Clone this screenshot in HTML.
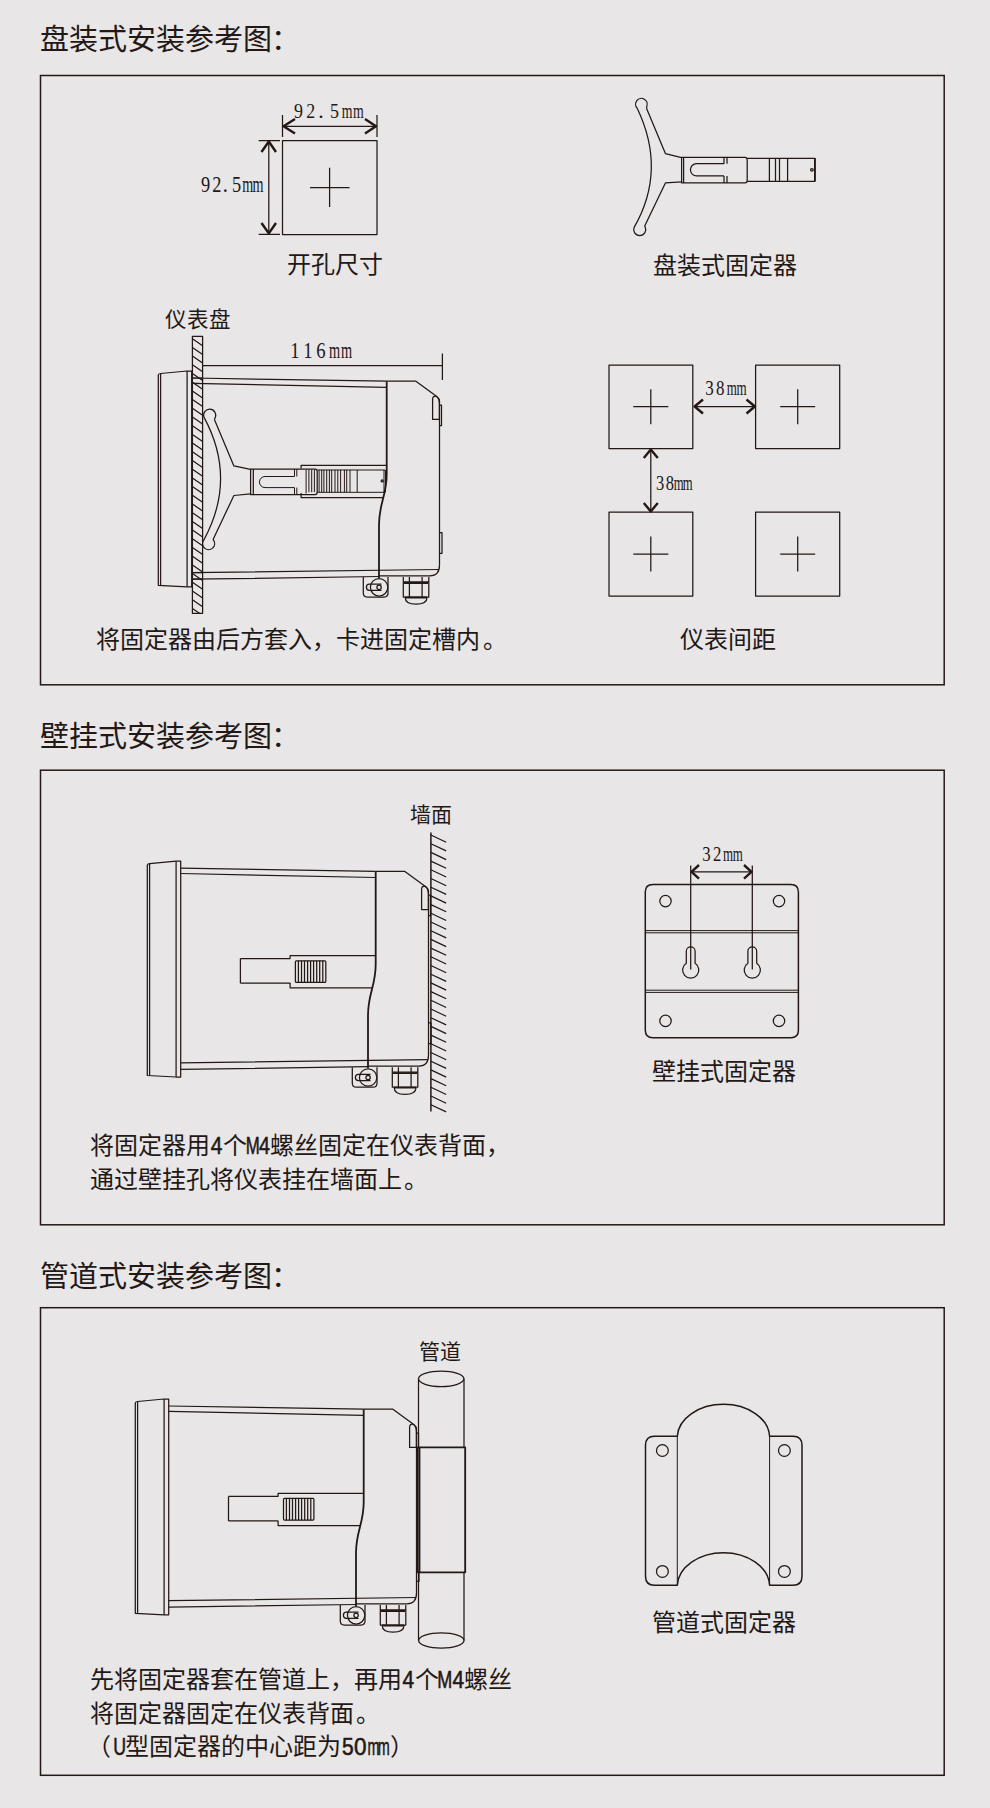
<!DOCTYPE html>
<html lang="zh-CN"><head><meta charset="utf-8">
<style>
html,body{margin:0;padding:0;background:#e8e6e7;width:990px;height:1808px;overflow:hidden}
svg{display:block;position:absolute;left:0;top:0}
text{font-family:"Liberation Sans",sans-serif;fill:#231815}
.dm{font-family:"Liberation Serif",serif}
.lt{stroke:#231815;stroke-width:0.55}
.k{fill:none;stroke:#231815;stroke-width:1.25;stroke-linejoin:round;stroke-linecap:butt}
.k2{fill:none;stroke:#231815;stroke-width:1.8;stroke-linejoin:round}
.bx{fill:none;stroke:#231815;stroke-width:1.5}
.k1{fill:none;stroke:#231815;stroke-width:1}
.ka{fill:none;stroke:#231815;stroke-width:2.4;stroke-linejoin:round}
.kb{fill:none;stroke:#231815;stroke-width:1.5;stroke-linejoin:round}
</style></head>
<body>
<svg width="990" height="1808" viewBox="0 0 990 1808">
<defs>
<g id="inst">
<!-- bezel -->
<path class="k" d="M158.3 375V585.3L187.1 586.8H191.7V371H187.1L160.6 373.5Q158.3 373.7 158.3 375Z"/>
<path class="k" d="M160.6 373.5V585.5M187.1 371V586.8"/>
<!-- housing mid lines -->
<path class="k" d="M191.7 378L386.7 381.2M191.7 383.3L386.7 387.3M191.7 572.7L439 569.5M191.7 579.2L379 576.5"/>
<!-- rear housing -->
<path class="k" d="M386.7 381.2H415.9L437.1 396.7Q439.5 398.8 439.5 401V565Q439.5 575.8 430 575.8H379"/>
<path class="k2" d="M386.7 381.2V474C386.7 496 379 503 379 525V578"/>
<!-- clip -->
<path class="k" d="M432.6 419.4V399.5Q432.6 396 435.5 396Q439.4 397.5 439.4 404V419.4Z"/>
<path class="k" d="M439.5 405H441.5V425.5H439.5M439.5 532.7H442V553.3H439.5"/>
<!-- slide housing -->
<path class="k" d="M301.1 468.4V465.3H386.7M301.1 492.9V497.6H383"/>
<!-- lock -->
<path class="k" d="M363.3 577V593Q363.3 597 367.3 597H384Q388 597 388 593V577"/>
<circle class="k" cx="379.1" cy="587.3" r="8.7" style="fill:#e8e6e7"/>
<path class="k" d="M381.5 584.2H369.4Q366.4 584.2 366.4 587.25Q366.4 590.3 369.4 590.3H381.5"/>
<circle class="k" cx="379.1" cy="587.3" r="2.2"/>
<!-- gland -->
<path class="k" d="M403.3 577V597H428.8V577M409.4 577V597M422.1 577V597M403.3 581.8H428.8"/>
<path class="k2" d="M404 583H428M405 597.5H427"/>
<path class="k" d="M405.2 597.5Q405.2 604.2 416 604.2Q427 604.2 427 597.5"/>
</g>
</defs>

<!-- titles -->
<text x="40" y="50" font-size="29">盘装式安装参考图</text><text x="271" y="50" font-size="29">：</text>
<text x="40" y="747" font-size="29">壁挂式安装参考图</text><text x="271" y="747" font-size="29">：</text>
<text x="40" y="1287" font-size="29">管道式安装参考图</text><text x="271" y="1287" font-size="29">：</text>

<!-- boxes -->
<rect class="bx" x="40.5" y="75.5" width="903.7" height="609.3"/>
<rect class="bx" x="40.5" y="770.2" width="903.7" height="454.6"/>
<rect class="bx" x="40.5" y="1307.7" width="903.7" height="467.6"/>

<!-- BOX1 -->
<!-- cutout -->
<g id="cut">
<rect class="k" x="282.5" y="140.5" width="94.5" height="94"/>
<path class="k" d="M310 187.5H349.6M329.6 167.7V207"/>
<path class="k" d="M282.5 115V137M377 115V137M282.5 126.3H377"/>
<path class="ka" d="M295 119L283.5 126.3L295 133.5M365 119L376 126.3L365 133.5"/>
<path class="k" d="M258.7 140.5H280M258.7 234.4H280M268.8 140.5V234.4"/>
<path class="ka" d="M261.5 152L268.8 141.5L276 152M261.5 223L268.8 233.4L276 223"/>
</g>
<text class="dm" transform="translate(293.99 117.5) scale(0.82 1)" font-size="21.9">9</text><text class="dm" transform="translate(306.31 117.5) scale(0.82 1)" font-size="21.9">2</text><text class="dm" transform="translate(318.16 117.5) scale(1.0 1)" font-size="21.9">.</text><text class="dm" transform="translate(330.09 117.5) scale(0.82 1)" font-size="21.9">5</text><text class="dm" transform="translate(341.85 117.5) scale(0.63 1)" font-size="21.9">m</text><text class="dm" transform="translate(353.00 117.5) scale(0.63 1)" font-size="21.9">m</text>
<text class="dm" transform="translate(201.09 191.8) scale(0.82 1)" font-size="22.4">9</text><text class="dm" transform="translate(212.26 191.8) scale(0.82 1)" font-size="22.4">2</text><text class="dm" transform="translate(222.40 191.8) scale(1.0 1)" font-size="22.4">.</text><text class="dm" transform="translate(231.93 191.8) scale(0.82 1)" font-size="22.4">5</text><text class="dm" transform="translate(242.32 191.8) scale(0.63 1)" font-size="22.4">m</text><text class="dm" transform="translate(252.42 191.8) scale(0.63 1)" font-size="22.4">m</text>
<text x="287" y="273" font-size="24">开孔尺寸</text>
<!-- panel fixture top-right -->
<path class="k" d="M646.7 108.7L665.4 153.6L681.6 157.7M681.6 181.9L665.4 182.9L644.7 226L645.2 227.1A6 6 0 1 1 634.26 227.11Q666.9 170 637.16 108.16A5.8 5.8 0 1 1 646.78 106.37L646.7 108.7"/>
<path class="k" d="M681.6 157.3H745Q747.2 157.3 747.2 160V180Q747.2 182.9 745 182.9H681.6ZM683.6 157.3V182.9"/>
<path class="k" d="M724 163.7H696.5A6.1 6.1 0 0 0 696.5 175.9H724M724 157.3V163.7M727 157.3V163.7M724 175.9V182.9M727 175.9V182.9"/>
<path class="k" d="M747.2 158.3H814.9V181.3H747.2M769.4 158.3V181.3M775.5 158.3V181.3M779.5 158.3V181.3M787.6 158.3V181.3"/>
<path class="k2" d="M814.9 158.3V181.3"/>
<circle class="k" cx="811.9" cy="169.8" r="1.3"/>
<text x="653" y="274" font-size="24">盘装式固定器</text>

<!-- panel side view -->
<text x="164.5" y="327" font-size="21.5">仪表盘</text>
<use href="#inst"/>
<clipPath id="pc"><rect x="192.4" y="336.4" width="10.2" height="276.9"/></clipPath>
<g clip-path="url(#pc)"><path class="k" d="M192.4 330.0L202.6 337.0M192.4 338.7L202.6 345.7M192.4 347.4L202.6 354.4M192.4 356.1L202.6 363.1M192.4 364.8L202.6 371.8M192.4 373.5L202.6 380.5M192.4 382.2L202.6 389.2M192.4 390.9L202.6 397.9M192.4 399.6L202.6 406.6M192.4 408.3L202.6 415.3M192.4 417.0L202.6 424.0M192.4 425.7L202.6 432.7M192.4 434.4L202.6 441.4M192.4 443.1L202.6 450.1M192.4 451.8L202.6 458.8M192.4 460.5L202.6 467.5M192.4 469.2L202.6 476.2M192.4 477.9L202.6 484.9M192.4 486.6L202.6 493.6M192.4 495.3L202.6 502.3M192.4 504.0L202.6 511.0M192.4 512.7L202.6 519.7M192.4 521.4L202.6 528.4M192.4 530.1L202.6 537.1M192.4 538.8L202.6 545.8M192.4 547.5L202.6 554.5M192.4 556.2L202.6 563.2M192.4 564.9L202.6 571.9M192.4 573.6L202.6 580.6M192.4 582.3L202.6 589.3M192.4 591.0L202.6 598.0M192.4 599.7L202.6 606.7M192.4 608.4L202.6 615.4M192.4 617.1L202.6 624.1"/></g>
<rect class="k" x="192.4" y="336.4" width="10.2" height="276.9"/>
<path class="k" d="M191.7 378L202.6 378.2M191.7 383.3L202.6 383.5M191.7 572.7L202.6 572.6M191.7 579.2L202.6 579.1"/>
<path class="k" d="M202.6 365.6H442.4M442.4 353.5V380"/>
<text class="dm" transform="translate(290.27 358) scale(0.82 1)" font-size="22.8">1</text><text class="dm" transform="translate(303.32 358) scale(0.82 1)" font-size="22.8">1</text><text class="dm" transform="translate(316.15 358) scale(0.82 1)" font-size="22.8">6</text><text class="dm" transform="translate(329.03 358) scale(0.63 1)" font-size="22.8">m</text><text class="dm" transform="translate(341.08 358) scale(0.63 1)" font-size="22.8">m</text>
<!-- Y fixture side -->
<path class="k" d="M214.4 419.6L233.9 465.9L250.6 469.3M250.6 493.8L233.9 495.5L213.2 539.2L213.5 540.2A6 6 0 1 1 203.7 540.2Q237.3 478.8 204.06 417.35A6 6 0 1 1 215.1 417.8L214.4 419.6"/>
<path class="k" d="M250.6 469H315Q317.2 469 317.2 471.5V492Q317.2 494.7 315 494.7H250.6ZM253.3 469V494.7"/>
<path class="k1" d="M294.5 476.5H265A5.55 5.55 0 0 0 265 487.6H294.5M294.5 469V476.5M296.8 469V476.5M294.5 487.6V494.7M296.8 487.6V494.7"/>
<path class="k1" d="M317.2 470H385M317.2 492.3H385M306.1 470V493.5M384 470V492.3M385.5 470V492.3"/>
<path class="k1" d="M308.9 469.8V492.2M311.7 469.8V492.2M314.4 469.8V492.2M319.1 469.8V492.2M321.7 469.8V492.2M323.9 469.8V492.2M326.7 469.8V492.2M329.4 469.8V492.2M331.7 469.8V492.2M335.0 469.8V492.2M337.8 469.8V492.2M340.6 469.8V492.2M344.4 469.8V492.2M346.7 469.8V492.2M350.0 469.8V492.2M357.2 469.8V492.2"/>

<circle class="k" cx="382.2" cy="480.9" r="1"/>

<!-- 4 squares -->
<g>
<rect class="k" x="609" y="365" width="83.8" height="83.6"/>
<rect class="k" x="755.6" y="365" width="84.1" height="83.6"/>
<rect class="k" x="609" y="512.2" width="83.8" height="83.8"/>
<rect class="k" x="755.6" y="512.2" width="84.1" height="83.8"/>
<path class="k" d="M633.3 406.7H668.3M650.8 389.2V424.2M780.2 406.7H815.2M797.7 389.2V424.2M633.3 554.1H668.3M650.8 536.6V571.6M780.2 554.1H815.2M797.7 536.6V571.6"/>
<path class="k" d="M694 406.5H754.5M650.8 450V511"/>
<path class="ka" d="M703 399.5L694.6 406.5L703 413.5M746.5 399.5L754.9 406.5L746.5 413.5M643.8 458L650.8 449.6L657.8 458M643.8 503L650.8 511.4L657.8 503"/>
</g>
<text class="dm" transform="translate(705.13 395.1) scale(0.82 1)" font-size="20.7">3</text><text class="dm" transform="translate(716.11 395.1) scale(0.82 1)" font-size="20.7">8</text><text class="dm" transform="translate(726.64 395.1) scale(0.63 1)" font-size="20.7">m</text><text class="dm" transform="translate(736.39 395.1) scale(0.63 1)" font-size="20.7">m</text>
<text class="dm" transform="translate(656.11 489.7) scale(0.82 1)" font-size="20.1">3</text><text class="dm" transform="translate(665.63 489.7) scale(0.82 1)" font-size="20.1">8</text><text class="dm" transform="translate(673.64 489.7) scale(0.63 1)" font-size="20.1">m</text><text class="dm" transform="translate(682.74 489.7) scale(0.63 1)" font-size="20.1">m</text>
<text x="679.5" y="647.5" font-size="24">仪表间距</text>
<text x="96" y="648" font-size="24">将固定器由后方套入，卡进固定槽内</text><text x="482.6" y="648" font-size="24">。</text>
<!-- BOX2 wall side view -->
<g transform="translate(-11 490.2)"><use href="#inst"/>
<path class="k" d="M251.4 468.4H301.3M251.4 493H301.3M251.4 468.4V493"/>
<rect class="k" x="306.4" y="470.6" width="30.4" height="21.6" rx="1"/>
<path class="k" d="M309.4 470.6V492.2M312.5 470.6V492.2M315.5 470.6V492.2M318.6 470.6V492.2M321.6 470.6V492.2M324.6 470.6V492.2M327.7 470.6V492.2M330.7 470.6V492.2M333.8 470.6V492.2"/>
</g>
<text x="409.5" y="822" font-size="21">墙面</text>
<path class="kb" d="M430.9 832.6V1111.5"/>
<path class="k" d="M430.9 835.0L446.2 842.2M430.9 843.7L446.2 850.9M430.9 852.4L446.2 859.6M430.9 861.1L446.2 868.3M430.9 869.8L446.2 877.0M430.9 878.5L446.2 885.7M430.9 887.2L446.2 894.4M430.9 895.9L446.2 903.1M430.9 904.6L446.2 911.8M430.9 913.3L446.2 920.5M430.9 922.0L446.2 929.2M430.9 930.7L446.2 937.9M430.9 939.4L446.2 946.6M430.9 948.1L446.2 955.3M430.9 956.8L446.2 964.0M430.9 965.5L446.2 972.7M430.9 974.2L446.2 981.4M430.9 982.9L446.2 990.1M430.9 991.6L446.2 998.8M430.9 1000.3L446.2 1007.5M430.9 1009.0L446.2 1016.2M430.9 1017.7L446.2 1024.9M430.9 1026.4L446.2 1033.6M430.9 1035.1L446.2 1042.3M430.9 1043.8L446.2 1051.0M430.9 1052.5L446.2 1059.7M430.9 1061.2L446.2 1068.4M430.9 1069.9L446.2 1077.1M430.9 1078.6L446.2 1085.8M430.9 1087.3L446.2 1094.5M430.9 1096.0L446.2 1103.2M430.9 1104.7L446.2 1111.9"/>
<!-- wall bracket -->
<path class="kb" d="M652.8 884.5H790.9Q798.4 884.5 798.4 892V1030.2Q798.4 1037.7 790.9 1037.7H652.8Q645.3 1037.7 645.3 1030.2V892Q645.3 884.5 652.8 884.5Z"/>
<path class="k1" d="M645.3 930.6H798.4M645.3 932.8H798.4M645.3 990.2H798.4M645.3 992.4H798.4"/>
<circle class="k" cx="665.5" cy="901.1" r="5.7"/><circle class="k" cx="779" cy="901.1" r="5.7"/>
<circle class="k" cx="665.5" cy="1020.9" r="5.7"/><circle class="k" cx="779" cy="1020.9" r="5.7"/>
<path class="k" d="M686.3 963.2V951.2A4.4 4.4 0 0 1 695.1 951.2V963.2A8.1 8.1 0 1 1 686.3 963.2ZM747.9 963.2V951.2A4.4 4.4 0 0 1 756.7 951.2V963.2A8.1 8.1 0 1 1 747.9 963.2Z"/>
<path class="k" d="M690.7 865.4V969.4M752.3 865.4V969.4M691.5 871.8H751.5"/>
<path class="ka" d="M699 865L691.5 871.8L699 878.6M744 865L751.5 871.8L744 878.6"/>
<text class="dm" transform="translate(702.27 860.9) scale(0.82 1)" font-size="20.5">3</text><text class="dm" transform="translate(712.99 860.9) scale(0.82 1)" font-size="20.5">2</text><text class="dm" transform="translate(723.09 860.9) scale(0.63 1)" font-size="20.5">m</text><text class="dm" transform="translate(732.84 860.9) scale(0.63 1)" font-size="20.5">m</text>
<text x="651.5" y="1080" font-size="24">壁挂式固定器</text>
<text x="90" y="1154" font-size="24">将固定器用</text><text class="lt" transform="translate(210.7 1154) scale(0.87 1)" font-size="24">4</text><text x="223" y="1154" font-size="24">个</text><text class="lt" transform="translate(245.8 1154) scale(0.7 1)" font-size="24">M</text><text class="lt" transform="translate(259.1 1154) scale(0.82 1)" font-size="24">4</text><text x="270.3" y="1154" font-size="24">螺丝固定在仪表背面，</text>
<text x="90.3" y="1188" font-size="24">通过壁挂孔将仪表挂在墙面上</text><text x="404.3" y="1188" font-size="24">。</text>

<!-- BOX3 pipe side view -->
<g transform="translate(-23 1028)"><use href="#inst"/>
<path class="k" d="M251.5 468.4H301.3M251.5 492.9H301.3M251.5 468.4V492.9"/>
<rect class="k" x="306.5" y="470.4" width="30.4" height="21.6" rx="1"/>
<path class="k" d="M309.4 470.6V492.2M312.5 470.6V492.2M315.5 470.6V492.2M318.6 470.6V492.2M321.6 470.6V492.2M324.6 470.6V492.2M327.7 470.6V492.2M330.7 470.6V492.2M333.8 470.6V492.2"/>
</g>
<text x="418.5" y="1359" font-size="21">管道</text>
<path class="k" d="M418.5 1378.8V1640.5M464 1378.8V1640.5"/>
<ellipse class="k" cx="441.2" cy="1378.8" rx="22.7" ry="7.8"/>
<ellipse class="k" cx="441.3" cy="1640.5" rx="22.7" ry="7.6"/>
<rect x="417.5" y="1447.4" width="47.3" height="125" fill="#e8e6e7"/>
<path class="k2" d="M417.5 1447.4H465.2V1572.3H417.5ZM419.5 1447.4V1572.3"/>
<!-- pipe bracket -->
<path class="kb" d="M677.3 1436.2A46.2 33.5 0 0 1 769.6 1436.2H793Q802 1436.2 802 1445.2V1576.2Q802 1585.2 793 1585.2H769.6A46.2 34 0 0 0 677.3 1585.2H654.5Q645.5 1585.2 645.5 1576.2V1445.2Q645.5 1436.2 654.5 1436.2Z"/>
<path class="k1" d="M677.3 1436.2V1585.2M769.6 1436.2V1585.2"/>
<circle class="k" cx="662.4" cy="1450.5" r="5.9"/><circle class="k" cx="784.4" cy="1450.5" r="5.9"/>
<circle class="k" cx="662.4" cy="1571.4" r="5.9"/><circle class="k" cx="784.4" cy="1571.4" r="5.9"/>
<text x="651.5" y="1631" font-size="24">管道式固定器</text>
<text x="90.1" y="1687.5" font-size="24">先将固定器套在管道上，再用</text><text class="lt" transform="translate(402.6 1687.5) scale(0.87 1)" font-size="24">4</text><text x="415.2" y="1687.5" font-size="24">个</text><text class="lt" transform="translate(437.3 1687.5) scale(0.75 1)" font-size="24">M</text><text class="lt" transform="translate(452.6 1687.5) scale(0.87 1)" font-size="24">4</text><text x="464.2" y="1687.5" font-size="24">螺丝</text>
<text x="90" y="1721.5" font-size="24">将固定器固定在仪表背面</text><text x="356" y="1721.5" font-size="24">。</text>
<text x="87.2" y="1755" font-size="24">（</text><text class="lt" transform="translate(113.3 1755) scale(0.74 1)" font-size="24">U</text><text x="125.4" y="1755" font-size="24">型固定器的中心距为</text><text class="lt" transform="translate(342 1755) scale(0.875 1)" font-size="24">5</text><text class="lt" transform="translate(354 1755) scale(0.94 1)" font-size="24">0</text><text class="lt" transform="translate(367.6 1755) scale(0.6 1)" font-size="24">m</text><text class="lt" transform="translate(377.7 1755) scale(0.6 1)" font-size="24">m</text><text x="390.2" y="1755" font-size="24">）</text>



</svg>
</body></html>
